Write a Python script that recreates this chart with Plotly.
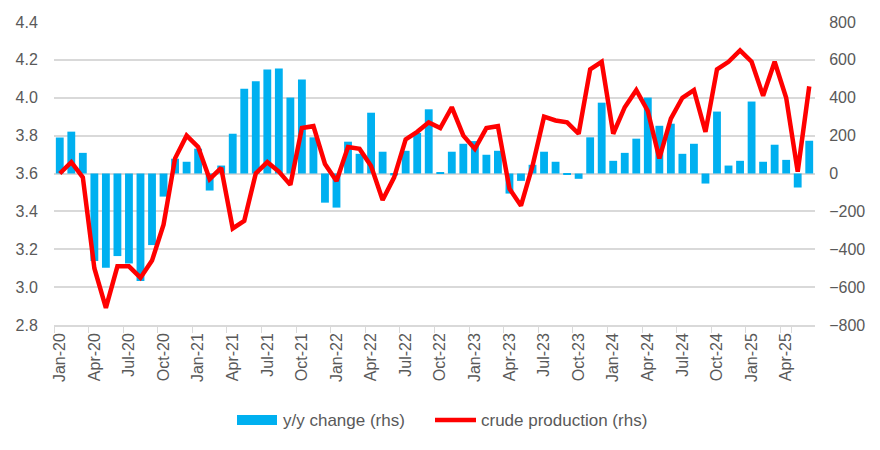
import plotly.graph_objects as go

months = ["Jan", "Feb", "Mar", "Apr", "May", "Jun", "Jul", "Aug", "Sep", "Oct", "Nov", "Dec"]
categories = [f"{m}-{y:02d}" for y in range(20, 26) for m in months][:66]

yoy_change = [190, 221, 109, -462, -498, -436, -475, -567, -378, -122, 78, 62,
              131, -90, 42, 210, 448, 487, 549, 554, 401, 496, 191, -154,
              -180, 168, 104, 321, 115, -10, 120, 214, 339, 4, 115, 157,
              171, 99, 120, -106, -39, 46, 115, 62, -5, -28, 191, 374,
              67, 109, 184, 401, 252, 263, 104, 157, -53, 327, 42, 67,
              380, 62, 152, 72, -74, 173]

crude_production = [3.60, 3.66, 3.58, 3.10, 2.89, 3.11, 3.11, 3.05, 3.14, 3.33, 3.68, 3.80,
                    3.74, 3.57, 3.63, 3.31, 3.35, 3.60, 3.66, 3.61, 3.54, 3.84, 3.85, 3.65,
                    3.56, 3.74, 3.73, 3.64, 3.46, 3.58, 3.78, 3.82, 3.87, 3.84, 3.95, 3.80,
                    3.73, 3.84, 3.85, 3.52, 3.43, 3.64, 3.90, 3.88, 3.87, 3.81, 4.15, 4.19,
                    3.81, 3.95, 4.04, 3.93, 3.68, 3.89, 4.00, 4.04, 3.82, 4.15, 4.19, 4.25,
                    4.19, 4.01, 4.19, 4.00, 3.61, 4.06]

tick_labels = categories[::3]
legend_names = ["y/y change (rhs)", "crude production (rhs)"]

font_family = "Liberation Sans"
text_color = "#595959"
bar_color = "#00B0F0"
line_color = "#FF0000"

fig = go.Figure()
fig.add_trace(go.Bar(
    x=categories, y=yoy_change, name=legend_names[0],
    marker=dict(color=bar_color, line=dict(width=0)),
    yaxis="y",
))
fig.add_trace(go.Scatter(
    x=categories, y=crude_production, name=legend_names[1],
    mode="lines", line=dict(color=line_color, width=4.5),
    yaxis="y2",
))

W, H = 880, 450
OFF = 8  # page body margin offset
ml, mr, mt, mb = 54 - OFF, 880 - 815 + OFF, 22 - OFF, 450 - 325 + OFF
pw, ph = W - ml - mr, H - mt - mb


def px_x(x):
    return (x - OFF - ml) / pw


def px_y(y):
    return (H - mb - (y - OFF)) / ph


legend_y = 420
fig.add_shape(type="rect", xref="paper", yref="paper",
              x0=px_x(237), x1=px_x(277), y0=px_y(legend_y + 5), y1=px_y(legend_y - 5),
              fillcolor=bar_color, line=dict(width=0))
fig.add_shape(type="line", xref="paper", yref="paper",
              x0=px_x(435), x1=px_x(476), y0=px_y(legend_y), y1=px_y(legend_y),
              line=dict(color=line_color, width=4.5))
fig.add_annotation(xref="paper", yref="paper", x=px_x(281), y=px_y(legend_y),
                   xanchor="left", yanchor="middle", showarrow=False,
                   text=legend_names[0], font=dict(size=17, color=text_color))
fig.add_annotation(xref="paper", yref="paper", x=px_x(479), y=px_y(legend_y),
                   xanchor="left", yanchor="middle", showarrow=False,
                   text=legend_names[1], font=dict(size=17, color=text_color))

fig.update_layout(
    width=W, height=H,
    margin=dict(l=ml, r=mr, t=mt, b=mb, autoexpand=False),
    paper_bgcolor="white", plot_bgcolor="white",
    font=dict(family=font_family, size=15, color=text_color),
    bargap=0.32,
    showlegend=False,
    xaxis=dict(
        type="category", tickmode="array", tickvals=tick_labels, ticktext=tick_labels,
        tickangle=-90, ticks="outside", tickson="boundaries", ticklen=6,
        tickcolor="#D9D9D9", showline=True, linecolor="#D9D9D9", linewidth=1.5,
        showgrid=False, tickfont=dict(size=16, color=text_color), automargin=False,
    ),
    yaxis=dict(
        side="right", range=[-800, 800], dtick=200, showgrid=True,
        gridcolor="#D9D9D9", gridwidth=1.5, zeroline=False,
        ticks="outside", ticklen=10, tickcolor="rgba(0,0,0,0)",
        tickfont=dict(size=16, color=text_color), automargin=False,
    ),
    yaxis2=dict(
        side="left", overlaying="y", range=[2.8, 4.4], dtick=0.2, tickformat=".1f",
        showgrid=False, zeroline=False,
        ticks="outside", ticklen=12, tickcolor="rgba(0,0,0,0)",
        tickfont=dict(size=16, color=text_color), automargin=False,
    ),
)

fig.write_html("out.html")
